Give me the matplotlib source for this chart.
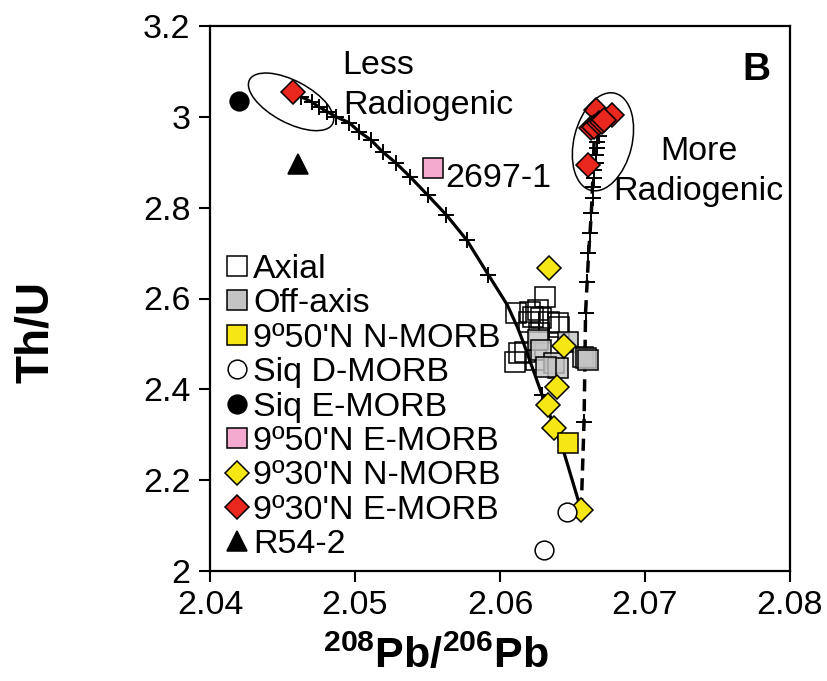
import matplotlib
matplotlib.use("Agg")
import matplotlib.pyplot as plt
import matplotlib.transforms as mtransforms
from matplotlib.patches import Ellipse
from matplotlib.ticker import FormatStrFormatter, FuncFormatter

plt.rcParams['font.family'] = ['Liberation Sans', 'DejaVu Sans']
plt.rcParams['mathtext.fontset'] = 'custom'
plt.rcParams['mathtext.bf'] = 'Liberation Sans:bold'
plt.rcParams['mathtext.rm'] = 'Liberation Sans'

# --- sample data: 208Pb/206Pb vs Th/U ---
axial_x = [2.0631, 2.0611, 2.0621, 2.0626, 2.0623, 2.0620, 2.0634, 2.0640,
           2.0641, 2.0627, 2.0613, 2.0617, 2.0610, 2.0628, 2.0625]
axial_y = [2.604, 2.568, 2.570, 2.575, 2.559, 2.548, 2.548, 2.546,
           2.537, 2.524, 2.480, 2.482, 2.460, 2.557, 2.465]

offaxis_x = [2.0626, 2.0628, 2.0637, 2.0640, 2.0632, 2.0647, 2.0657, 2.0659, 2.0661]
offaxis_y = [2.509, 2.487, 2.458, 2.447, 2.449, 2.504, 2.471, 2.469, 2.465]

nmorb950_x = [2.0647]
nmorb950_y = [2.282]

siq_d_x = [2.0646, 2.0630]
siq_d_y = [2.130, 2.046]

siq_e_x = [2.0420]
siq_e_y = [3.035]

emorb950_x = [2.0554]
emorb950_y = [2.888]

nmorb930_x = [2.0634, 2.0644, 2.0639, 2.0633, 2.0637, 2.0656]
nmorb930_y = [2.667, 2.496, 2.405, 2.366, 2.315, 2.134]

emorb930_x = [2.0457, 2.0661, 2.0666, 2.0677, 2.0663, 2.0665, 2.0668, 2.0670, 2.0672]
emorb930_y = [3.055, 2.894, 3.015, 3.004, 2.976, 2.978, 2.987, 2.989, 2.993]

r54_x = [2.0461]
r54_y = [2.896]

# mixing curves (solid: E-MORB to D-MORB, dashed: D-MORB to radiogenic end)
solid_x = [2.0457, 2.0463, 2.0470, 2.0475, 2.0481, 2.0487, 2.0496, 2.0503,
           2.0511, 2.0519, 2.0528, 2.0538, 2.0550, 2.0563, 2.0577, 2.0592,
           2.0605, 2.0612, 2.0616, 2.0629, 2.0644, 2.0656]
solid_y = [3.055, 3.044, 3.033, 3.022, 3.011, 3.000, 2.987, 2.967,
           2.949, 2.923, 2.899, 2.868, 2.828, 2.784, 2.729, 2.652,
           2.586, 2.537, 2.504, 2.388, 2.262, 2.134]
solid_tick_x = [2.0463, 2.0470, 2.0475, 2.0481, 2.0487, 2.0496, 2.0503, 2.0511,
                2.0519, 2.0528, 2.0538, 2.0550, 2.0563, 2.0577, 2.0592, 2.0629]
solid_tick_y = [3.044, 3.033, 3.022, 3.011, 3.000, 2.987, 2.967, 2.949,
                2.923, 2.899, 2.868, 2.828, 2.784, 2.729, 2.652, 2.388]

dashed_x = [2.0656, 2.0658, 2.0659, 2.0661, 2.0663, 2.0664, 2.0665, 2.0668]
dashed_y = [2.134, 2.333, 2.568, 2.692, 2.789, 2.861, 2.956, 2.987]
dashed_tick_x = [2.0658, 2.0659, 2.0660, 2.0661, 2.0662, 2.0663, 2.0664, 2.0664,
                 2.0665, 2.0665, 2.0666, 2.0666, 2.0667, 2.0667, 2.0668]
dashed_tick_y = [2.328, 2.568, 2.637, 2.700, 2.744, 2.789, 2.822, 2.846,
                 2.866, 2.883, 2.899, 2.916, 2.932, 2.945, 2.958]

fig = plt.figure(figsize=(8.27, 6.81), dpi=100)
ax = fig.add_axes([210 / 827, 1 - 571 / 681, 580 / 827, 545 / 681])

FS = 24.5
ms = 14
ew = 1.1
YELLOW = '#f5e614'
RED = '#e8281e'
PINK = '#f4a9cf'
GREY = '#c4c4c4'

ax.plot(solid_x, solid_y, '-', color='black', lw=2.3, zorder=2)
ax.plot(solid_tick_x, solid_tick_y, '+', color='black', ms=11, mew=1.4, zorder=2)
ax.plot(dashed_x, dashed_y, color='black', lw=2.5, dashes=(3.5, 2.2), zorder=2)
ax.plot(dashed_tick_x, dashed_tick_y, '+', color='black', ms=12, mew=1.4, zorder=2)

ax.plot(axial_x, axial_y, 's', ms=ms, mfc='none', mec='black', mew=ew, zorder=3)
ax.plot(offaxis_x, offaxis_y, 's', ms=ms, mfc=(0.77, 0.77, 0.77, 0.8), mec='black',
        mew=ew, zorder=3)
ax.plot(nmorb930_x, nmorb930_y, 'D', ms=12, mfc=YELLOW, mec='black', mew=ew, zorder=4)
ax.plot(emorb930_x, emorb930_y, 'D', ms=12, mfc=RED, mec='black', mew=ew, zorder=4)
ax.plot(nmorb950_x, nmorb950_y, 's', ms=ms, mfc=YELLOW, mec='black', mew=ew, zorder=4)
ax.plot(siq_d_x, siq_d_y, 'o', ms=13.5, mfc='white', mec='black', mew=ew, zorder=4)
ax.plot(siq_e_x, siq_e_y, 'o', ms=13.5, mfc='black', mec='black', mew=ew, zorder=4)
ax.plot(emorb950_x, emorb950_y, 's', ms=ms, mfc=PINK, mec='black', mew=ew, zorder=4)
ax.plot(r54_x, r54_y, '^', ms=14, mfc='black', mec='black', mew=ew, zorder=4)

# outlines around the end-member groups (sizes in inches)
def outline(cx, cy, w, h, angle):
    trans = fig.dpi_scale_trans + mtransforms.ScaledTranslation(cx, cy, ax.transData)
    ax.add_patch(Ellipse((0, 0), w, h, angle=angle, fill=False, ec='black',
                         lw=1.1, transform=trans, zorder=5))

outline(2.04559, 3.033, 0.94, 0.42, -28)
outline(2.06710, 2.945, 1.00, 0.58, 76)

ax.text(2.0491, 3.112, 'Less', fontsize=FS, ha='left', va='center')
ax.text(2.0492, 3.024, 'Radiogenic', fontsize=FS, ha='left', va='center')
ax.text(2.0737, 2.923, 'More', fontsize=FS, ha='center', va='center')
ax.text(2.0737, 2.835, 'Radiogenic', fontsize=FS, ha='center', va='center')
ax.text(2.0562, 2.864, '2697-1', fontsize=FS, ha='left', va='center')
ax.text(2.0777, 3.104, 'B', fontsize=28, fontweight='bold', ha='center', va='center')

legend_handles = [
    plt.Line2D([], [], ls='none', marker='s', ms=ms, mfc='white', mec='black', mew=ew),
    plt.Line2D([], [], ls='none', marker='s', ms=ms, mfc=GREY, mec='black', mew=ew),
    plt.Line2D([], [], ls='none', marker='s', ms=ms, mfc=YELLOW, mec='black', mew=ew),
    plt.Line2D([], [], ls='none', marker='o', ms=13.5, mfc='white', mec='black', mew=ew),
    plt.Line2D([], [], ls='none', marker='o', ms=13.5, mfc='black', mec='black', mew=ew),
    plt.Line2D([], [], ls='none', marker='s', ms=ms, mfc=PINK, mec='black', mew=ew),
    plt.Line2D([], [], ls='none', marker='D', ms=12, mfc=YELLOW, mec='black', mew=ew),
    plt.Line2D([], [], ls='none', marker='D', ms=12, mfc=RED, mec='black', mew=ew),
    plt.Line2D([], [], ls='none', marker='^', ms=14, mfc='black', mec='black', mew=ew),
]
legend_labels = ['Axial', 'Off-axis', "9º50'N N-MORB", 'Siq D-MORB', 'Siq E-MORB',
                 "9º50'N E-MORB", "9º30'N N-MORB", "9º30'N E-MORB", 'R54-2']
ax.legend(legend_handles, legend_labels, loc='upper left', frameon=False,
          fontsize=FS, handlelength=0.75, handletextpad=0.1, labelspacing=0.1,
          borderpad=0, borderaxespad=0,
          bbox_to_anchor=(224 / 827, 1 - 254 / 681), bbox_transform=fig.transFigure)

ax.set_xlim(2.04, 2.08)
ax.set_ylim(2.0, 3.2)
ax.set_xticks([2.04, 2.05, 2.06, 2.07, 2.08])
ax.set_yticks([2.0, 2.2, 2.4, 2.6, 2.8, 3.0, 3.2])
ax.xaxis.set_major_formatter(FormatStrFormatter('%.2f'))
ax.yaxis.set_major_formatter(FuncFormatter(lambda v, p: '%g' % round(v, 1)))
ax.tick_params(direction='out', length=8, width=1.5, labelsize=FS, pad=6)
for sp in ax.spines.values():
    sp.set_linewidth(1.6)

fig.text(436 / 827, 1 - 656 / 681, r'$\mathbf{^{208}Pb/^{206}Pb}$', fontsize=31,
         ha='center', va='center')
fig.text(36 / 827, 1 - 332 / 681, 'Th/U', fontsize=33, fontweight='bold',
         rotation=90, ha='center', va='center')

fig.savefig('out.png', dpi=100)
